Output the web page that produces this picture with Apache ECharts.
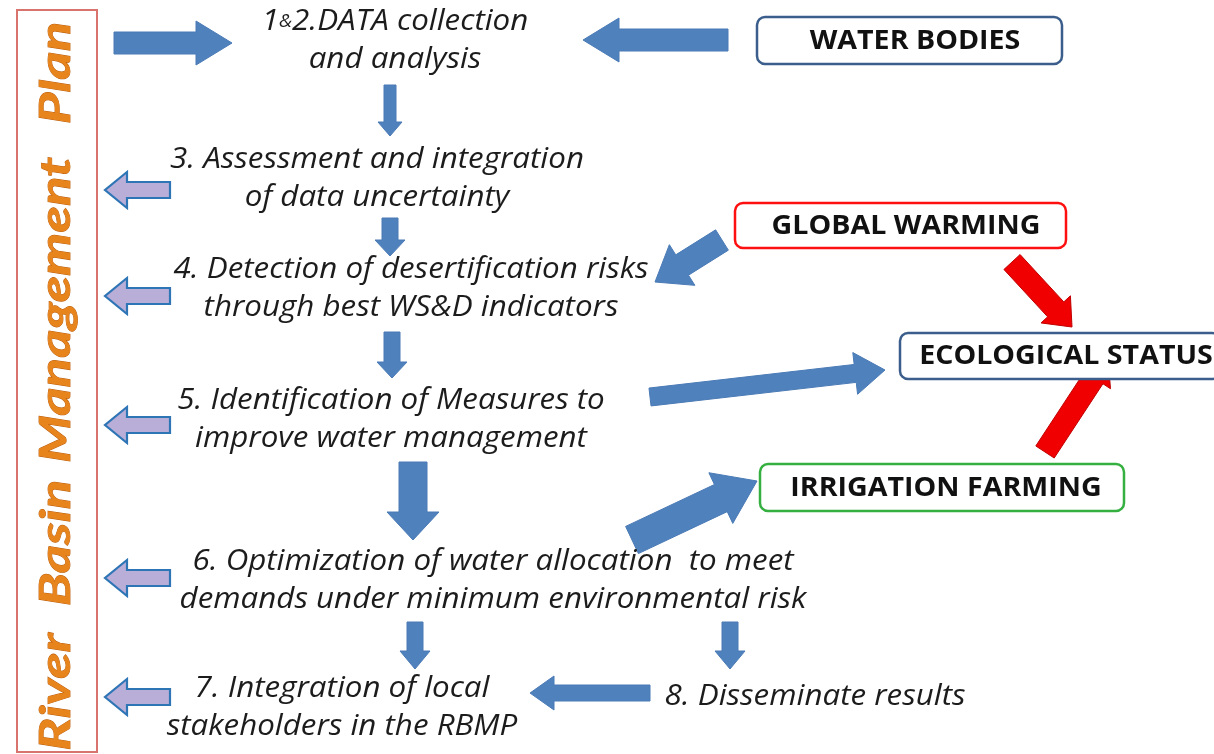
<!DOCTYPE html>
<html><head><meta charset="utf-8">
<script src="https://cdn.jsdelivr.net/npm/echarts@6/dist/echarts.min.js"></script>
<style>html,body{margin:0;padding:0;background:#fff}#c{width:1214px;height:754px}</style>
</head><body><div id="c"></div>
<script>
// ---- Diagram content ----
const sideWords = ['River', 'Basin', 'Management', 'Plan'];
const sideWordY = [692, 543, 310, 73];
const stepLines = [
  ['{n|1}{a|&}{n|2.DATA collection}', 'and analysis'],
  ['3. Assessment and integration', 'of data uncertainty'],
  ['4. Detection of desertification risks', 'through best WS&D indicators'],
  ['5. Identification of Measures to', 'improve water management'],
  ['6. Optimization of water allocation  to meet', 'demands under minimum environmental risk'],
  ['7. Integration of local', 'stakeholders in the RBMP'],
  ['8. Disseminate results']
];
const stepAnchors = [[395, 22], [377, 160], [411, 270], [391, 401], [493, 562], [342, 689], [815, 697]];
const boxLabels = ['WATER BODIES', 'GLOBAL WARMING', 'ECOLOGICAL STATUS', 'IRRIGATION FARMING'];
const boxRects = [[757, 17, 1062, 64], [735, 203, 1066, 248], [900, 333, 1220, 379], [760, 464, 1124, 511]];
const boxTextX = [915, 906, 1066, 946];
const boxColors = ['#3B5E8C', '#FF1010', '#3B5E8C', '#35B040'];
// block arrows: tail x,y, tip x,y, shaft width, head width, head length
const blueArrows = [
  [114, 43, 232, 43, 22, 44, 36],
  [728, 40, 583, 40, 22, 44, 36],
  [390, 85, 390, 136, 12, 24, 14],
  [390, 218, 390, 256, 16, 30, 16],
  [392, 332, 392, 378, 16, 30, 16],
  [413, 462, 413, 540, 28, 52, 28],
  [415, 622, 415, 669, 16, 30, 18],
  [730, 622, 730, 669, 16, 30, 18],
  [650, 693, 530, 693, 16, 34, 24],
  [722, 240, 655, 282, 24, 48, 32],
  [650, 397, 885, 370, 18, 42, 30],
  [632, 540, 757, 481, 30, 56, 40]
];
const redArrows = [
  [1012, 262, 1072, 327, 22, 40, 24],
  [1045, 452, 1108, 356, 22, 40, 26]
];
const sideArrowY = [190, 296, 425, 578, 697];
const sideArrowX = [170, 105];

const arrows = blueArrows.map(a => a.concat([0]))
  .concat(redArrows.map(a => a.concat([1])))
  .concat(sideArrowY.map(y => [sideArrowX[0], y, sideArrowX[1], y, 16, 36, 22, 2]));
const arrowStyles = [
  { fill: '#4F81BD', stroke: '#4A7AB5', lineWidth: 1 },
  { fill: '#F00000', stroke: '#C00000', lineWidth: 1 },
  { fill: '#B9AED8', stroke: '#2E75B6', lineWidth: 2.2 }
];

const chart = echarts.init(document.getElementById('c'), null, { renderer: 'canvas' });

function arrowPoly(api, a) {
  const p1 = api.coord([a[0], a[1]]), p2 = api.coord([a[2], a[3]]);
  const dx = p2[0] - p1[0], dy = p2[1] - p1[1];
  const L = Math.hypot(dx, dy);
  const ux = dx / L, uy = dy / L, nx = -uy, ny = ux;
  const w = a[4] / 2, hw = a[5] / 2, hl = a[6];
  const bx = p2[0] - ux * hl, by = p2[1] - uy * hl;
  return [
    [p1[0] + nx * w, p1[1] + ny * w],
    [bx + nx * w, by + ny * w],
    [bx + nx * hw, by + ny * hw],
    [p2[0], p2[1]],
    [bx - nx * hw, by - ny * hw],
    [bx - nx * w, by - ny * w],
    [p1[0] - nx * w, p1[1] - ny * w]
  ];
}

const stepFont = '"Open Sans", Lato, sans-serif';

chart.setOption({
  animation: false,
  grid: { left: 0, right: 0, top: 0, bottom: 0 },
  xAxis: { type: 'value', min: 0, max: 1214, show: false },
  yAxis: { type: 'value', min: 0, max: 754, inverse: true, show: false },
  series: [
    {
      type: 'custom', name: 'frame', silent: true,
      data: [[17, 10, 97, 752]],
      renderItem: (params, api) => {
        const p1 = api.coord([api.value(0), api.value(1)]);
        const p2 = api.coord([api.value(2), api.value(3)]);
        const words = sideWords.map((w, k) => {
          const p = api.coord([56, sideWordY[k]]);
          return { type: 'text', x: p[0], y: p[1], rotation: Math.PI / 2, scaleX: 1.3,
            style: { text: w, fill: '#E8841C', stroke: '#B85A08', lineWidth: 0.8,
              font: 'italic bold 42px Lato, sans-serif', align: 'center', verticalAlign: 'middle' } };
        });
        return { type: 'group', children: [
          { type: 'rect', shape: { x: p1[0], y: p1[1], width: p2[0] - p1[0], height: p2[1] - p1[1] },
            style: { fill: 'none', stroke: '#D8736E', lineWidth: 2 } }
        ].concat(words) };
      }
    },
    {
      type: 'custom', name: 'arrows', silent: true,
      data: arrows,
      renderItem: (params, api) => {
        const a = arrows[params.dataIndex];
        return { type: 'polygon', shape: { points: arrowPoly(api, a) }, style: arrowStyles[a[7]] };
      }
    },
    {
      type: 'custom', name: 'boxes', silent: true,
      data: boxRects,
      renderItem: (params, api) => {
        const i = params.dataIndex, r = boxRects[i];
        const p1 = api.coord([r[0], r[1]]), p2 = api.coord([r[2], r[3]]);
        const tp = api.coord([boxTextX[i], (r[1] + r[3]) / 2]);
        return { type: 'group', children: [
          { type: 'rect', shape: { x: p1[0], y: p1[1], width: p2[0] - p1[0], height: p2[1] - p1[1], r: 8 },
            style: { fill: '#fff', stroke: boxColors[i], lineWidth: 2.5 } },
          { type: 'text', x: tp[0], y: tp[1] + 1, scaleX: 1.1,
            style: { text: boxLabels[i], fill: '#111', font: 'bold 26px ' + stepFont,
              align: 'center', verticalAlign: 'middle' } }
        ] };
      }
    },
    {
      type: 'custom', name: 'steps', silent: true,
      data: stepAnchors,
      renderItem: (params, api) => {
        const i = params.dataIndex, lines = stepLines[i], an = stepAnchors[i];
        const children = lines.map((t, k) => {
          const p = api.coord([an[0], an[1] + k * 37.5]);
          return { type: 'text', x: p[0], y: p[1], scaleX: 1.08,
            style: { text: t, fill: '#1c1c1c', font: 'italic 29px ' + stepFont,
              align: 'center', verticalAlign: 'middle',
              rich: { n: { font: 'italic 29px ' + stepFont, fill: '#1c1c1c' },
                      a: { font: 'italic 18px ' + stepFont, fill: '#1c1c1c' } } } };
        });
        return { type: 'group', children };
      }
    }
  ]
});
</script></body></html>
